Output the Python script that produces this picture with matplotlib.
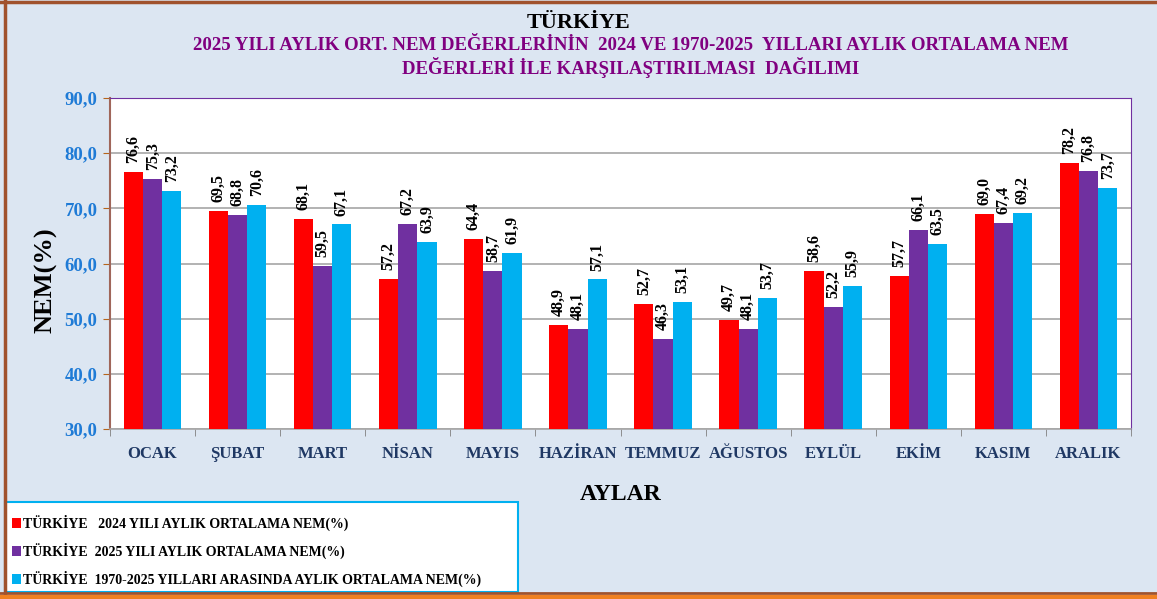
import numpy as np
import matplotlib
matplotlib.use("Agg")
import matplotlib.pyplot as plt
from matplotlib.patches import Rectangle, Patch
from matplotlib.lines import Line2D

months = ["OCAK", "ŞUBAT", "MART", "NİSAN", "MAYIS", "HAZİRAN",
          "TEMMUZ", "AĞUSTOS", "EYLÜL", "EKİM", "KASIM", "ARALIK"]
nem_2024 = [76.6, 69.5, 68.1, 57.2, 64.4, 48.9, 52.7, 49.7, 58.6, 57.7, 69.0, 78.2]
nem_2025 = [75.3, 68.8, 59.5, 67.2, 58.7, 48.1, 46.3, 48.1, 52.2, 66.1, 67.4, 76.8]
nem_norm = [73.2, 70.6, 67.1, 63.9, 61.9, 57.1, 53.1, 53.7, 55.9, 63.5, 69.2, 73.7]

series_labels = ["TÜRKİYE   2024 YILI AYLIK ORTALAMA NEM(%)",
                 "TÜRKİYE  2025 YILI AYLIK ORTALAMA NEM(%)",
                 "TÜRKİYE  1970-2025 YILLARI ARASINDA AYLIK ORTALAMA NEM(%)"]
colors = ["#ff0000", "#7030a0", "#00b0f0"]

plt.rcParams["font.family"] = "Liberation Serif"
plt.rcParams["font.weight"] = "bold"

W, H = 1157, 599
fig = plt.figure(figsize=(W / 100, H / 100), dpi=100, facecolor="#dce6f2")
ax = fig.add_axes([110 / W, 1 - 429 / H, 1021 / W, 331 / H])

x = np.arange(len(months))
w = 0.225
for k, (vals, col) in enumerate(zip([nem_2024, nem_2025, nem_norm], colors)):
    pos = x + (k - 1) * w
    ax.bar(pos, np.array(vals) - 30, bottom=30, width=w, color=col, zorder=3)
    for p, v in zip(pos, vals):
        ax.text(p, v + 1.6, f"{v:.1f}".replace(".", ","), rotation=90,
                ha="center", va="bottom", fontsize=11.5, fontweight="bold",
                color="black", zorder=4)

ax.set_xlim(-0.5, 11.5)
ax.set_ylim(30, 90)
ax.set_yticks(np.arange(30, 91, 10))
ax.set_yticklabels([f"{v:.1f}".replace(".", ",") for v in np.arange(30, 91, 10)],
                   color="#1f7bd6", fontsize=13.5, fontweight="bold")
ax.set_xticks(x)
ax.set_xticklabels(months, color="#1f3864", fontsize=12, fontweight="bold")
ax.set_xticks(np.arange(-0.5, 12, 1), minor=True)
ax.tick_params(axis="x", which="major", length=0, pad=12)
ax.tick_params(axis="x", which="minor", length=5, color="#808080")
ax.tick_params(axis="y", length=5, color="#b5651d", pad=4)
ax.yaxis.grid(True, color="#a6a6a6", linewidth=1.2, zorder=0)
ax.set_axisbelow(True)

ax.spines["left"].set_color("#a0665a")
ax.spines["left"].set_linewidth(1.5)
ax.spines["top"].set_color("#7030a0")
ax.spines["right"].set_color("#7030a0")
ax.spines["bottom"].set_color("#a6a6a6")
ax.spines["bottom"].set_linewidth(1.2)

ax.set_ylabel("NEM(%)", fontsize=19, fontweight="bold")
ax.yaxis.set_label_coords((57 - 110) / 1021, (429 - 280) / 331)
ax.set_xlabel("AYLAR", fontsize=17, fontweight="bold", labelpad=16)

fig.text(0.5, 1 - 23 / H, "TÜRKİYE", ha="center", va="center", fontsize=16,
         fontweight="bold", color="black")
fig.text(631 / W, 1 - 45 / H, "2025 YILI AYLIK ORT. NEM DEĞERLERİNİN  2024 VE 1970-2025  YILLARI AYLIK ORTALAMA NEM",
         ha="center", va="center", fontsize=13.6, fontweight="bold", color="#800080")
fig.text(631 / W, 1 - 67 / H, "DEĞERLERİ İLE KARŞILAŞTIRILMASI  DAĞILIMI",
         ha="center", va="center", fontsize=13.6, fontweight="bold", color="#800080")

# legend box
fig.patches.append(Rectangle((5 / W, 1 - 592 / H), 513 / W, 90 / H, transform=fig.transFigure,
                             facecolor="white", edgecolor="#00b0f0", linewidth=1.5, zorder=1))
handles = [Patch(facecolor=c) for c in colors]
leg = fig.legend(handles, series_labels, loc="lower left",
                 bbox_to_anchor=(8 / W, 8 / H), frameon=False,
                 prop={"family": "Liberation Serif", "weight": "bold", "size": 10},
                 handlelength=0.6, handleheight=0.8, handletextpad=0.2,
                 labelspacing=0.85, borderaxespad=0, borderpad=0.3)

# outer border
fig.add_artist(Line2D([4.5 / W, 4.5 / W], [1 - 594 / H, 1], transform=fig.transFigure,
                      color="#a0522d", linewidth=2.5))
fig.add_artist(Line2D([0, 1], [1 - 1.5 / H, 1 - 1.5 / H], transform=fig.transFigure,
                      color="#a0522d", linewidth=2.5))
fig.add_artist(Line2D([0, 1], [1 - 593 / H, 1 - 593 / H], transform=fig.transFigure,
                      color="#a0522d", linewidth=2))
fig.add_artist(Line2D([0, 1], [1 - 597 / H, 1 - 597 / H], transform=fig.transFigure,
                      color="#f08020", linewidth=3))

fig.savefig("out.png", dpi=100, facecolor=fig.get_facecolor())
